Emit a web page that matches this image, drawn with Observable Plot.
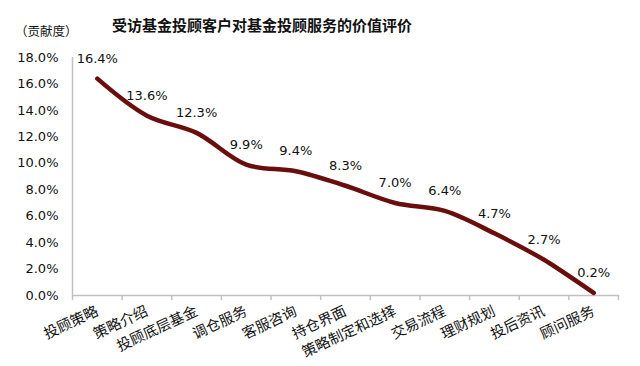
<!DOCTYPE html>
<html><head><meta charset="utf-8">
<script src="https://cdn.jsdelivr.net/npm/d3@7"></script>
<script src="https://cdn.jsdelivr.net/npm/@observablehq/plot@0.6"></script>
<style>
body{margin:0;background:#fff;}
#wrap{position:relative;width:640px;height:366px;overflow:hidden;background:#fff;}
#title{position:absolute;left:0;width:524px;top:14px;text-align:center;font:bold 15px "Noto Sans CJK SC",sans-serif;line-height:22px;color:#111;}
#unit{position:absolute;left:15px;top:22px;font:12.5px "Noto Sans CJK SC",sans-serif;line-height:18px;color:#111;}
#chart{position:absolute;left:0;top:44px;}
</style></head>
<body>
<div id="wrap">
  <div id="title"></div>
  <div id="unit"></div>
  <div id="chart"></div>
</div>
<script>
const titleText = "受访基金投顾客户对基金投顾服务的价值评价";
const unitText = "（贡献度）";
const categories = ["投顾策略","策略介绍","投顾底层基金","调仓服务","客服咨询","持仓界面","策略制定和选择","交易流程","理财规划","投后资讯","顾问服务"];
const values = [16.4,13.6,12.3,9.9,9.4,8.3,7.0,6.4,4.7,2.7,0.2];
const yTicks = [0,2,4,6,8,10,12,14,16,18];

document.getElementById("title").textContent = titleText;
document.getElementById("unit").textContent = unitText;

const data = categories.map((c,i)=>({i:i+0.5, c, v:values[i]}));
const bounds = d3.range(categories.length+1);

const chart = Plot.plot({
  width:640, height:322,
  marginTop:13, marginBottom:71, marginLeft:72, marginRight:22,
  x:{type:"linear", domain:[0,categories.length]},
  y:{domain:[0,18]},
  style:{fontFamily:"'DejaVu Sans',sans-serif", fontSize:"13px", color:"#111", background:"#fff"},
  marks:[
    Plot.ruleX([0],{stroke:"#c0c0c0", strokeWidth:1.5}),
    Plot.ruleY([0],{stroke:"#c0c0c0", strokeWidth:1.5}),
    Plot.axisY({ticks:yTicks, tickSize:0, tickPadding:14, tickFormat:d=>d.toFixed(1)+"%", label:null, fontSize:13, fontFamily:"'DejaVu Sans',sans-serif"}),
    Plot.axisX({ticks:bounds, tickSize:5, stroke:"#c0c0c0", strokeWidth:1.5, tickFormat:()=>"", label:null}),
    Plot.axisX({ticks:data.map(d=>d.i), tickSize:0, tickPadding:15, tickRotate:-25, tickFormat:i=>categories[Math.floor(i)], label:null, fontFamily:"'Noto Sans CJK SC',sans-serif", fontSize:14.5}),
    Plot.line(data,{x:"i", y:"v", curve:"catmull-rom", stroke:"#6a0d0d", strokeWidth:4.5, strokeLinecap:"round"}),
    Plot.text(data,{x:"i", y:"v", text:d=>d.v.toFixed(1)+"%", dy:-20, fontSize:13, fontFamily:"'DejaVu Sans',sans-serif", fill:"#111"})
  ]
});
document.getElementById("chart").appendChild(chart);
</script>
</body></html>
